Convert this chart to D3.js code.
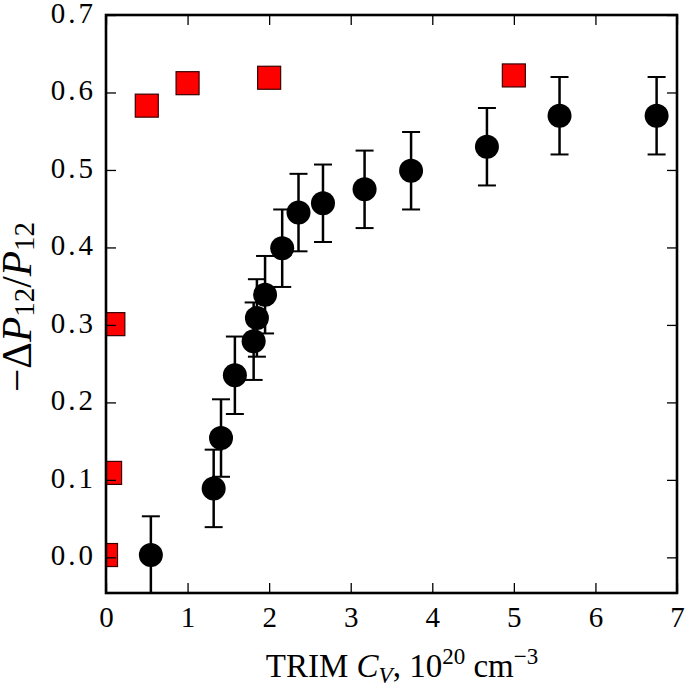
<!DOCTYPE html>
<html>
<head>
<meta charset="utf-8">
<script src="https://cdn.jsdelivr.net/npm/d3@7"></script>
<style>
  body { margin: 0; background: #fff; }
</style>
</head>
<body>
<svg id="chart" width="685" height="689"></svg>
<script>
// TRIM vacancy concentration (1e20 cm^-3) vs relative change of P12
const circleX = [0.55, 1.32, 1.41, 1.58, 1.81, 1.85, 1.95, 2.16, 2.36, 2.66, 3.17, 3.74, 4.67, 5.56, 6.75];
const circleY = [0.003, 0.089, 0.154, 0.235, 0.279, 0.309, 0.339, 0.399, 0.445, 0.457, 0.475, 0.499, 0.530, 0.570, 0.570];
const circleErr = [0.05, 0.05, 0.05, 0.05, 0.05, 0.05, 0.05, 0.05, 0.05, 0.05, 0.05, 0.05, 0.05, 0.05, 0.05];

const squareX = [0.0, 0.05, 0.09, 0.50, 1.0, 2.0, 5.0];
const squareY = [0.003, 0.109, 0.301, 0.583, 0.612, 0.619, 0.622];

const xTicks = [0, 1, 2, 3, 4, 5, 6, 7];
const yTicks = [0.0, 0.1, 0.2, 0.3, 0.4, 0.5, 0.6, 0.7];

const FONT = "Liberation Serif";
const svg = d3.select("#chart");
const plotLeft = 106, plotRight = 677, plotTop = 15, plotBottom = 593;

const x = d3.scaleLinear().domain([0, 7]).range([plotLeft, plotRight]);
const y = d3.scaleLinear().domain([-0.046, 0.7]).range([plotBottom, plotTop]);

svg.append("defs").append("clipPath").attr("id", "plot-clip")
  .append("rect")
  .attr("x", plotLeft).attr("y", plotTop)
  .attr("width", plotRight - plotLeft).attr("height", plotBottom - plotTop);

const plot = svg.append("g").attr("clip-path", "url(#plot-clip)");

const circles = circleX.map((cx, i) => ({ x: cx, y: circleY[i], e: circleErr[i] }));
const squares = squareX.map((sx, i) => ({ x: sx, y: squareY[i] }));

// error bars
const bars = plot.append("g").attr("stroke", "#000");
bars.selectAll("line.err")
  .data(circles)
  .join("line")
  .attr("class", "err")
  .attr("x1", (d) => x(d.x)).attr("x2", (d) => x(d.x))
  .attr("y1", (d) => y(d.y - d.e)).attr("y2", (d) => y(d.y + d.e))
  .attr("stroke-width", 2.5);
["lo", "hi"].forEach((side) => {
  bars.selectAll(`line.cap-${side}`)
    .data(circles)
    .join("line")
    .attr("class", `cap-${side}`)
    .attr("x1", (d) => x(d.x) - 9).attr("x2", (d) => x(d.x) + 9)
    .attr("y1", (d) => y(side === "lo" ? d.y - d.e : d.y + d.e))
    .attr("y2", (d) => y(side === "lo" ? d.y - d.e : d.y + d.e))
    .attr("stroke-width", 2);
});

plot.append("g").selectAll("circle")
  .data(circles)
  .join("circle")
  .attr("cx", (d) => x(d.x))
  .attr("cy", (d) => y(d.y))
  .attr("r", 12)
  .attr("fill", "#000");

const sq = 23;
plot.append("g").selectAll("rect")
  .data(squares)
  .join("rect")
  .attr("x", (d) => x(d.x) - sq / 2)
  .attr("y", (d) => y(d.y) - sq / 2)
  .attr("width", sq).attr("height", sq)
  .attr("fill", "#ff0000")
  .attr("stroke", "#3a0000")
  .attr("stroke-width", 1.2);

// axes with inward ticks
function styleAxis(g, showText) {
  g.attr("font-family", FONT).attr("font-size", 29);
  g.select(".domain").remove();
  g.selectAll(".tick line").attr("stroke", "#000").attr("stroke-width", 1.3);
  if (!showText) g.selectAll(".tick text").remove();
  else g.selectAll(".tick text").attr("fill", "#000");
}

svg.append("g").attr("transform", `translate(0,${plotBottom})`)
  .call(d3.axisBottom(x).tickValues(xTicks).tickSize(-10).tickPadding(13.5).tickFormat(d3.format("d")))
  .call((g) => styleAxis(g, true));

svg.append("g").attr("transform", `translate(0,${plotTop})`)
  .call(d3.axisTop(x).tickValues(xTicks).tickSize(-10))
  .call((g) => styleAxis(g, false));

svg.append("g").attr("transform", `translate(${plotLeft},0)`)
  .call(d3.axisLeft(y).tickValues(yTicks).tickSize(-10).tickPadding(13).tickFormat(d3.format(".1f")))
  .call((g) => styleAxis(g, true))
  .selectAll(".tick text")
  .attr("dy", "0.25em")
  .attr("letter-spacing", 3)
  .attr("dx", 3);

svg.append("g").attr("transform", `translate(${plotRight},0)`)
  .call(d3.axisRight(y).tickValues(yTicks).tickSize(-10))
  .call((g) => styleAxis(g, false));

// frame
svg.append("rect")
  .attr("x", plotLeft).attr("y", plotTop)
  .attr("width", plotRight - plotLeft).attr("height", plotBottom - plotTop)
  .attr("fill", "none").attr("stroke", "#000").attr("stroke-width", 2.6);

// x label
const xl = svg.append("text")
  .attr("x", 402).attr("y", 677)
  .attr("text-anchor", "middle")
  .attr("font-family", FONT)
  .attr("font-size", 33)
  .attr("fill", "#000");
xl.append("tspan").text("TRIM ");
xl.append("tspan").attr("font-style", "italic").text("C");
xl.append("tspan").attr("font-style", "italic").attr("font-size", 23).attr("dy", 6).text("V");
xl.append("tspan").attr("dy", -6).text(", 10");
xl.append("tspan").attr("font-size", 23).attr("dy", -13).text("20");
xl.append("tspan").attr("dy", 13).text(" cm");
xl.append("tspan").attr("font-size", 23).attr("dy", -13).text("\u22123");

// y label, fitted to the span it has in the figure
const ylBase = 42;
const yl = svg.append("text")
  .attr("text-anchor", "start")
  .attr("font-family", FONT)
  .attr("font-size", ylBase)
  .attr("fill", "#000");
yl.append("tspan").text("\u2212\u0394");
yl.append("tspan").attr("font-style", "italic").text("P");
yl.append("tspan").attr("font-size", "70%").attr("dy", "0.12em").text("12");
yl.append("tspan").attr("dy", "-0.084em").text("/");
yl.append("tspan").attr("font-style", "italic").text("P");
yl.append("tspan").attr("font-size", "70%").attr("dy", "0.12em").text("12");
const ylLen = yl.node().getComputedTextLength();
const ylSize = ylBase * 170 / ylLen;
yl.attr("font-size", ylSize);
const ylLen2 = yl.node().getComputedTextLength();
yl.attr("transform", `translate(31,${307 + ylLen2 / 2}) rotate(-90)`);
</script>
</body>
</html>
